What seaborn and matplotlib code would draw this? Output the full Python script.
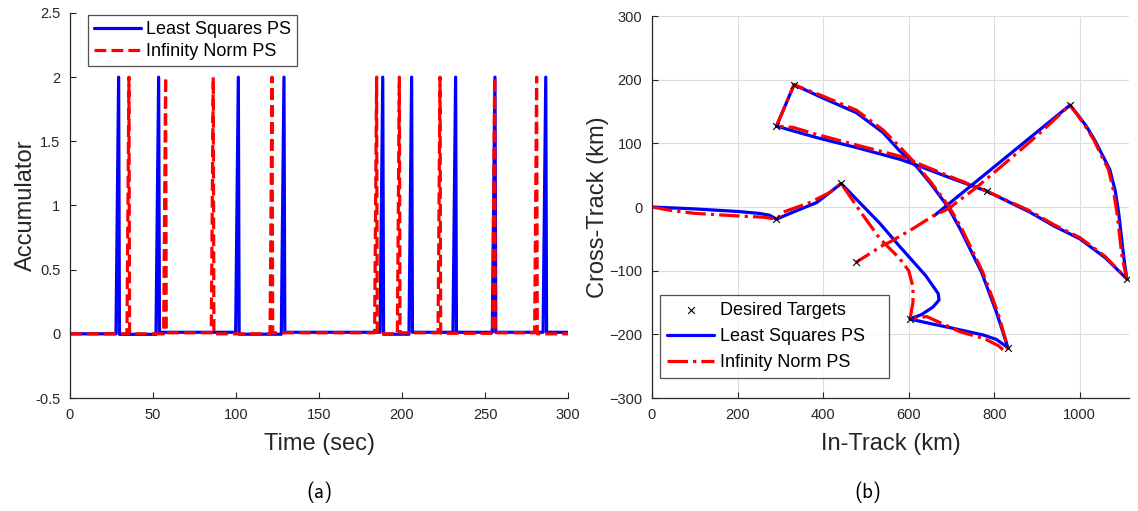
import matplotlib
matplotlib.use("Agg")
import matplotlib.pyplot as plt
import pandas as pd
import seaborn as sns
from matplotlib.ticker import FormatStrFormatter, MultipleLocator

sns.set_theme(style="white")
plt.rcParams["font.family"] = ["Liberation Sans", "DejaVu Sans"]

INK = "#262626"

# ---------------- (a) accumulator history ----------------
ls_spike_times = [29.3, 53.4, 101.4, 128.9, 188.4, 205.8, 232.3, 256.0, 286.6]
inf_spike_times = [35.5, 57.6, 86.3, 121.7, 184.7, 198.4, 222.9, 255.8, 281.1]
spike_peak = 2.0
ls_rest_levels = [0.0, -0.004, 0.012, -0.003, 0.012, -0.003, 0.012, 0.012, 0.012, 0.012]
inf_rest_levels = [0.0, 0.0, 0.008, 0.0, 0.008, 0.0, 0.008, 0.004, 0.008, 0.0]
t_end = 300.0

# ---------------- (b) ground track ----------------
target_x = [291, 442, 603, 832, 332, 291, 782, 1110, 977, 477]
target_y = [-19, 37, -176, -221, 192, 127, 25, -113, 160, -87]

ls_track_x = [0, 100, 200, 250, 275, 291,
              330, 385, 416, 442,
              533, 579, 640, 669, 671, 657, 630, 603,
              650, 700, 774, 805, 832,
              805, 770, 720, 692, 650, 614, 579, 540, 478, 400, 332,
              291,
              385, 480, 579, 614, 700, 782,
              883, 940, 1000, 1060, 1110,
              1103, 1097, 1091, 1083, 1070, 1054, 1035, 1015, 995, 977,
              661]
ls_track_y = [0, -3, -7, -10, -13, -19,
              -8, 7, 23, 37,
              -26, -62, -108, -136, -146, -157, -169, -176,
              -183, -190, -201, -208, -221,
              -165, -102, -34, 0, 38, 67, 88, 117, 148, 171, 192,
              127,
              109, 93, 75, 67, 45, 25,
              -8, -30, -50, -80, -113,
              -80, -45, -10, 25, 59, 80, 105, 127, 145, 160,
              -13]

inf_track_x = [0, 40, 100, 200, 260, 291,
               307, 369, 416, 442,
               490, 533, 579, 600, 610, 610, 603,
               642, 720, 778, 810, 825, 832,
               808, 773, 724, 695, 653, 616, 580, 540, 478, 400, 332,
               291,
               330, 385, 480, 579, 616, 700, 782,
               883, 940, 1000, 1060, 1110,
               1099, 1093, 1087, 1079, 1067, 1051, 1033, 1013, 994, 977,
               900, 845, 759, 692, 657, 610, 556, 540, 477]
inf_track_y = [0, -5, -10, -14, -16, -19,
               -8, 7, 23, 37,
               -10, -50, -81, -100, -125, -150, -176,
               -172, -196, -207, -218, -227, -221,
               -165, -102, -34, 0, 38, 68, 94, 121, 152, 174, 192,
               127,
               125, 114, 97, 80, 70, 47, 25,
               -6, -28, -48, -78, -113,
               -80, -45, -10, 25, 59, 80, 105, 127, 145, 160,
               112, 80, 31, -3, -14, -34, -55, -60, -87]


def accumulator_trace(times, rest, rise, fall):
    t, v = [0.0], [rest[0]]
    for i, ts in enumerate(times):
        t += [ts - rise, ts, ts + fall]
        v += [rest[i], spike_peak, rest[i + 1]]
    t.append(t_end)
    v.append(rest[-1])
    return pd.DataFrame({"t": t, "acc": v})


ls_acc = accumulator_trace(ls_spike_times, ls_rest_levels, 1.6, 0.5)
inf_acc = accumulator_trace(inf_spike_times, inf_rest_levels, 1.2, 0.4)
targets = pd.DataFrame({"x": target_x, "y": target_y})
ls_track = pd.DataFrame({"x": ls_track_x, "y": ls_track_y})
inf_track = pd.DataFrame({"x": inf_track_x, "y": inf_track_y})

fig = plt.figure(figsize=(11.38, 5.11), dpi=100)
ax1 = fig.add_axes([70 / 1138, 113 / 511, 498 / 1138, 385 / 511])
ax2 = fig.add_axes([652 / 1138, 113 / 511, 477 / 1138, 382 / 511])


def style_axes(ax):
    for side in ("top", "right"):
        ax.spines[side].set_visible(False)
    for side in ("left", "bottom"):
        ax.spines[side].set_color(INK)
        ax.spines[side].set_linewidth(0.9)
    ax.tick_params(direction="in", length=4, width=0.8, colors=INK,
                   labelsize=10.5, pad=7, left=True, bottom=True)
    ax.set_facecolor("white")


def frame_legend(leg):
    leg.get_frame().set_edgecolor(INK)
    leg.get_frame().set_linewidth(0.9)
    for txt in leg.get_texts():
        txt.set_color("black")


# (a)
sns.lineplot(data=ls_acc, x="t", y="acc", ax=ax1, sort=False, estimator=None,
             color="#0000ff", linewidth=2.3, label="Least Squares PS")
sns.lineplot(data=inf_acc, x="t", y="acc", ax=ax1, sort=False, estimator=None,
             color="#ff0000", linewidth=2.3, linestyle="--", label="Infinity Norm PS")
ax1.set_xlim(0, 300)
ax1.set_ylim(-0.5, 2.5)
ax1.xaxis.set_major_locator(MultipleLocator(50))
ax1.yaxis.set_major_locator(MultipleLocator(0.5))
ax1.yaxis.set_major_formatter(FormatStrFormatter("%g"))
style_axes(ax1)
ax1.set_xlabel("Time (sec)", fontsize=17, color=INK)
ax1.set_ylabel("Accumulator", fontsize=17, color=INK)
ax1.xaxis.set_label_coords(0.5, -0.12)
ax1.xaxis.label.set_va("center")
ax1.yaxis.set_label_coords(-0.088, 0.5)
ax1.yaxis.label.set_va("center")
leg1 = ax1.legend(handles=ax1.get_lines()[:2], loc="upper left",
                  bbox_to_anchor=(0.036, 0.995), fontsize=13, frameon=True,
                  fancybox=False, handlelength=2.6, handletextpad=0.3,
                  labelspacing=0.28, borderpad=0.33, borderaxespad=0.0)
frame_legend(leg1)

# (b)
ax2.grid(True, color="#dcdcdc", linewidth=0.8)
sns.lineplot(data=ls_track, x="x", y="y", ax=ax2, sort=False, estimator=None,
             color="#0000ff", linewidth=2.3, label="Least Squares PS")
sns.lineplot(data=inf_track, x="x", y="y", ax=ax2, sort=False, estimator=None,
             color="#ff0000", linewidth=2.3, linestyle="-.", label="Infinity Norm PS")
sns.scatterplot(data=targets, x="x", y="y", ax=ax2, marker="x", color="black",
                s=24, linewidth=0.8, zorder=5, label="Desired Targets")
ax2.set_xlim(0, 1115)
ax2.set_ylim(-300, 300)
ax2.xaxis.set_major_locator(MultipleLocator(200))
ax2.yaxis.set_major_locator(MultipleLocator(100))
style_axes(ax2)
ax2.set_xlabel("In-Track (km)", fontsize=17, color=INK)
ax2.set_ylabel("Cross-Track (km)", fontsize=17, color=INK)
ax2.xaxis.set_label_coords(0.5, -0.12)
ax2.xaxis.label.set_va("center")
ax2.yaxis.set_label_coords(-0.113, 0.5)
ax2.yaxis.label.set_va("center")
lines2 = ax2.get_lines()
handles2 = [ax2.collections[0], lines2[0], lines2[1]]
leg2 = ax2.legend(handles=handles2,
                  labels=["Desired Targets", "Least Squares PS", "Infinity Norm PS"],
                  loc="lower left", bbox_to_anchor=(0.017, 0.052, 0.48, 0.2),
                  mode="expand", fontsize=13, frameon=True, fancybox=False,
                  handlelength=2.6, handletextpad=0.3, labelspacing=0.5,
                  borderpad=0.4, borderaxespad=0.0)
frame_legend(leg2)

# sub-figure captions
fig.text(320 / 1138, 1 - 492 / 511, "(a)", fontsize=15, family="cmss10",
         ha="center", va="center", color="black")
fig.text(868 / 1138, 1 - 492 / 511, "(b)", fontsize=15, family="cmss10",
         ha="center", va="center", color="black")

fig.savefig("out.png", dpi=100, facecolor="white")
